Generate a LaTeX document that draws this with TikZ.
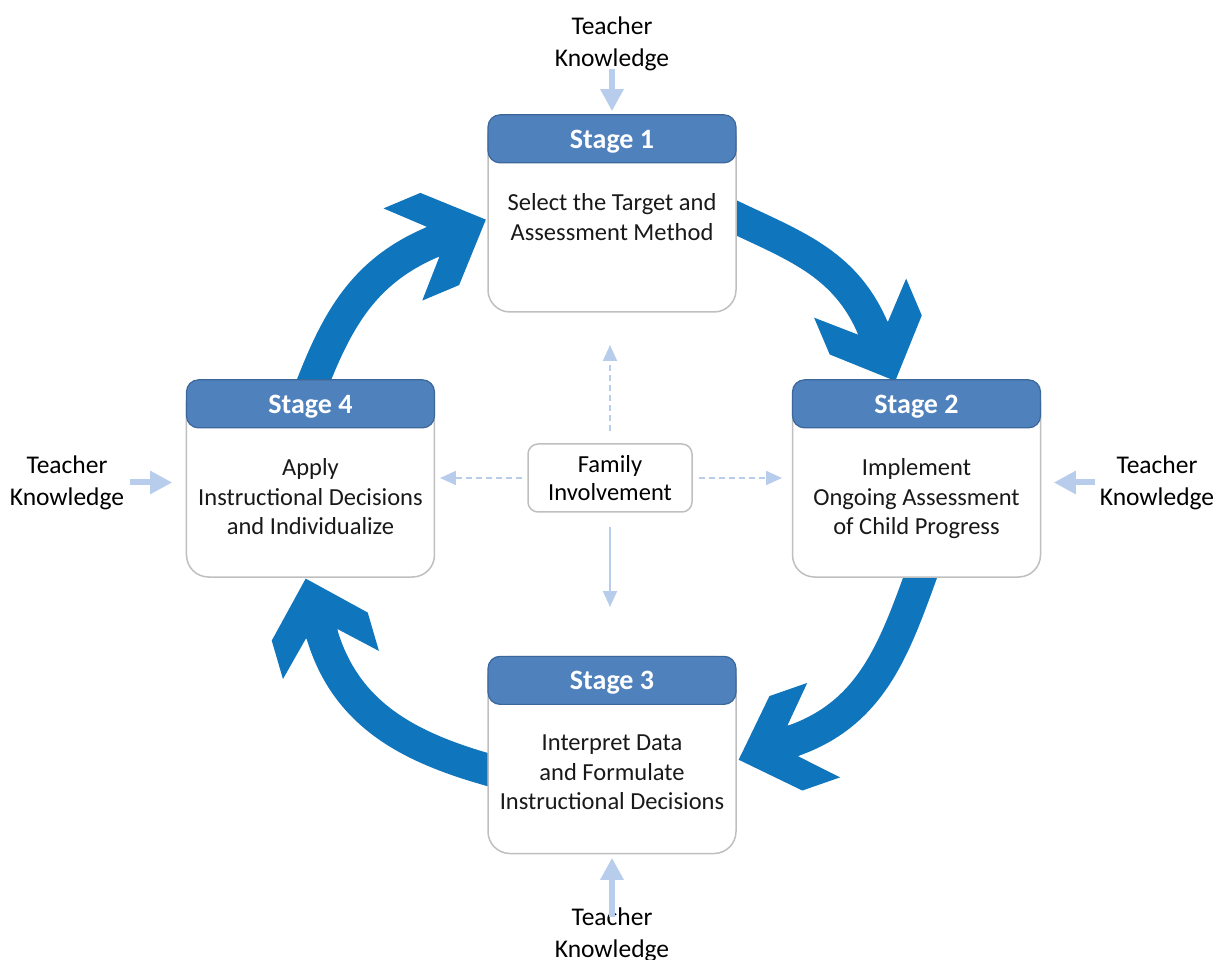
\documentclass[tikz,border=0pt]{standalone}
\usepackage{fontspec}
\setmainfont{Carlito}
\usepackage{tikz}
\usetikzlibrary{arrows.meta,calc}

\definecolor{stageblue}{HTML}{4F81BD}
\definecolor{stageedge}{HTML}{3C679A}
\definecolor{cycleblue}{HTML}{0F75BC}
\definecolor{paleblue}{HTML}{B8CDEC}
\definecolor{boxgray}{HTML}{BFBFBF}

\tikzset{
  stagebox/.style={draw=boxgray, line width=1.5pt, fill=white, rounded corners=22pt,
    minimum width=248pt, minimum height=197pt, inner sep=0pt},
  stagehead/.style={draw=stageedge, line width=1.2pt, fill=stageblue, rounded corners=12pt,
    minimum width=248pt, minimum height=48pt, inner sep=0pt, text=white, text depth=0pt,
    font=\fontsize{28}{34}\selectfont\bfseries},
  stagetext/.style={align=center, inner sep=0pt, text=black!90,
    font=\fontsize{24.5}{29.5}\selectfont},
  famnode/.style={draw=boxgray, line width=1.5pt, fill=white, rounded corners=10pt,
    minimum width=164pt, minimum height=68pt, inner sep=0pt, align=center,
    font=\fontsize{24.5}{28}\selectfont},
  tklabel/.style={align=center, inner sep=0pt, font=\fontsize{25.5}{32}\selectfont},
  tkarrow/.style={paleblue, line width=6pt, -{Triangle[width=22pt,length=22pt]}},
  famarrow/.style={paleblue, line width=2pt, -{Triangle[width=14pt,length=16pt]}},
  cyclearrow/.style={cycleblue, line width=32pt},
  pics/cyclehead/.style={code={
    \fill[cycleblue] (57,0) -- (7,50) -- (-33,50) -- (0,16) -- (-2,16) -- (-2,-16)
      -- (0,-16) -- (-33,-50) -- (7,-50) -- cycle;}}
}

\begin{document}
\begin{tikzpicture}[x=1pt,y=1pt]

    % 描画範囲
    \useasboundingbox (-612,-480) rectangle (605,480);

    % 循環矢印の端点
    \coordinate (T1) at (112,268);
    \coordinate (H1) at (261,151.5);
    \coordinate (T2) at (312.5,-85.5);
    \coordinate (H2) at (180.5,-261);
    \coordinate (T3) at (-112,-293);
    \coordinate (H3) at (-290.3,-153.3);
    \coordinate (T4) at (-302,90);
    \coordinate (H4) at (-178.7,238.3);

    % 循環矢印
    \draw [cyclearrow] (T1) to[out=-26,in=113] (H1);
    \pic [rotate=-67] at (H1) {cyclehead};
    \draw [cyclearrow] (T2) to[out=250,in=19.2] (H2);
    \pic [rotate=199.2] at (H2) {cyclehead};
    \draw [cyclearrow] (T3) to[out=165,in=-73.7] (H3);
    \pic [rotate=106.3] at (H3) {cyclehead};
    \draw [cyclearrow] (T4) to[out=69,in=202.8] (H4);
    \pic [rotate=22.8] at (H4) {cyclehead};

    % ステージ
    \node [stagebox] (s1) at (0,266.5) {};
    \node [stagehead, anchor=north] (h1) at (s1.north) {Stage 1};
    \node [stagetext, anchor=north] (b1) at ([yshift=-30pt]h1.south) {Select the Target and\\Assessment Method};

    \node [stagebox] (s2) at (304.5,1.5) {};
    \node [stagehead, anchor=north] (h2) at (s2.north) {Stage 2};
    \node [stagetext, anchor=north] (b2) at ([yshift=-30pt]h2.south) {Implement\\Ongoing Assessment\\of Child Progress};

    \node [stagebox] (s3) at (0,-275) {};
    \node [stagehead, anchor=north] (h3) at (s3.north) {Stage 3};
    \node [stagetext, anchor=north] (b3) at ([yshift=-30pt]h3.south) {Interpret Data\\and Formulate\\Instructional Decisions};

    \node [stagebox] (s4) at (-301.5,1.5) {};
    \node [stagehead, anchor=north] (h4) at (s4.north) {Stage 4};
    \node [stagetext, anchor=north] (b4) at ([yshift=-30pt]h4.south) {Apply\\Instructional Decisions\\and Individualize};

    % 家族の関与
    \node [famnode] (fam) at (-2,2) {Family\\Involvement};
    \coordinate (fu) at (-2,135);
    \coordinate (fl) at (-172,2);
    \coordinate (fr) at (170,2);
    \coordinate (fd) at (-2,-127);
    \draw [famarrow, dash pattern=on 6pt off 4pt, shorten <=12pt] (fam.north) -- (fu);
    \draw [famarrow, dash pattern=on 6pt off 4pt, shorten <=5pt] (fam.west) -- (fl);
    \draw [famarrow, dash pattern=on 6pt off 4pt, shorten <=6pt] (fam.east) -- (fr);
    \draw [famarrow, shorten <=14.7pt] (fam.south) -- (fd);

    % 教師の知識
    \node [tklabel] (tk1) at (0,436.6) {Teacher\\Knowledge};
    \node [tklabel] (tk2) at (545,-2.5) {Teacher\\Knowledge};
    \node [tklabel] (tk3) at (0,-455) {Teacher\\Knowledge};
    \node [tklabel] (tk4) at (-545,-2.5) {Teacher\\Knowledge};
    \draw [tkarrow, shorten <=-2pt, shorten >=3pt] (tk1.south) -- (s1.north);
    \draw [tkarrow, shorten <=4.5pt, shorten >=12.5pt] (tk2.west) -- (tk2.west -| s2.east);
    \draw [tkarrow, shorten <=-9pt, shorten >=3.5pt] (tk3.north) -- (s3.south);
    \draw [tkarrow, shorten <=5.5pt, shorten >=13.5pt] (tk4.east) -- (tk4.east -| s4.west);

\end{tikzpicture}
\end{document}
